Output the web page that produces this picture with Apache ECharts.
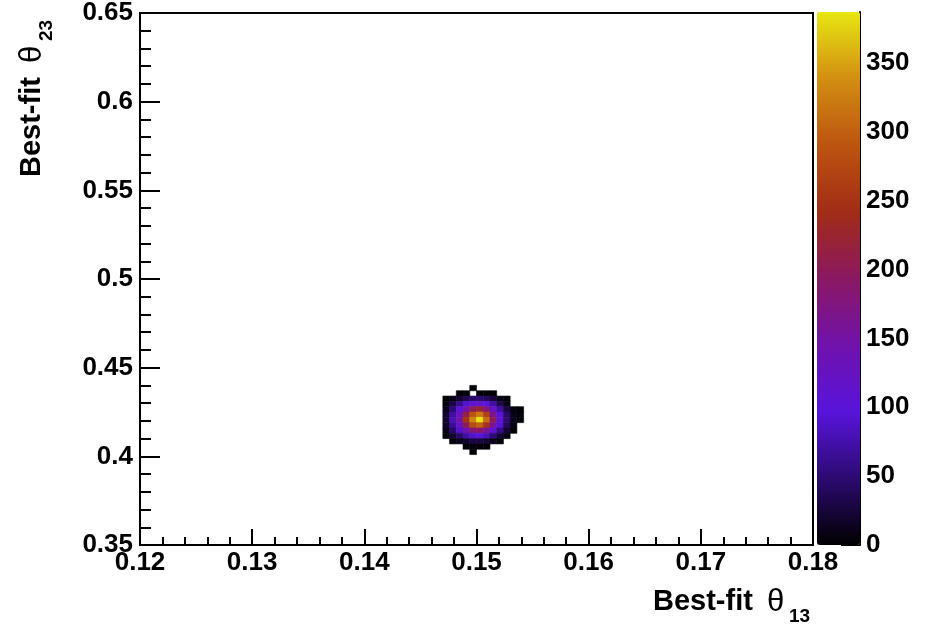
<!DOCTYPE html>
<html>
<head>
<meta charset="utf-8">
<script src="https://cdn.jsdelivr.net/npm/echarts@6/dist/echarts.min.js"></script>
<style>
  html, body { margin: 0; padding: 0; background: #ffffff; }
  #chart { width: 926px; height: 629px; }
</style>
</head>
<body>
<div id="chart"></div>
<script>
// Histogram binning: 100 x 100 bins over the plotted ranges
const xRange = [0.12, 0.18];
const yRange = [0.35, 0.65];
const xBinWidth = 0.0006;
const yBinWidth = 0.003;

// First bin column that holds entries (columns 45..56 below)
const firstCol = 45;
// Bin rows counted from the bottom of the y range, listed top to bottom
const rowIndex = [29, 28, 27, 26, 25, 24, 23, 22, 21, 20, 19, 18, 17];
// Entries per bin for each row, columns 45..56
const rowCounts = [
  [0, 0, 0, 0, 2, 0, 0, 0, 0, 0, 0, 0],
  [0, 0, 2, 4, 0, 3, 4, 2, 0, 0, 0, 0],
  [2, 8, 20, 35, 45, 50, 40, 25, 10, 2, 0, 0],
  [6, 30, 60, 90, 110, 120, 100, 70, 35, 10, 0, 0],
  [12, 50, 100, 150, 200, 220, 180, 120, 70, 30, 6, 2],
  [18, 70, 130, 210, 290, 320, 270, 170, 100, 45, 10, 4],
  [20, 80, 150, 250, 330, 387, 310, 200, 110, 50, 12, 3],
  [16, 65, 125, 200, 280, 300, 250, 160, 95, 40, 8, 0],
  [10, 45, 90, 140, 180, 190, 160, 110, 60, 25, 4, 0],
  [4, 20, 45, 70, 90, 95, 80, 50, 25, 6, 0, 0],
  [0, 5, 12, 20, 28, 30, 22, 12, 4, 0, 0, 0],
  [0, 0, 0, 4, 6, 5, 3, 0, 0, 0, 0, 0],
  [0, 0, 0, 0, 2, 0, 0, 0, 0, 0, 0, 0]
];

// Colour scale
const zMax = 387;
const colorbarTicks = [0, 50, 100, 150, 200, 250, 300, 350];
const paletteColors = ['#000000', '#2c0a70', '#5814dc', '#7012ac', '#8a1862',
                       '#a22c16', '#bc5410', '#d28e12', '#e8e612'];

// Axis titles
const xTitle = { main: 'Best-fit', symbol: 'θ', sub: '13' };
const yTitle = { main: 'Best-fit', symbol: 'θ', sub: '23' };

// Non-empty bins as [x low edge, y low edge, entries]
const cells = [];
rowCounts.forEach((row, r) => {
  row.forEach((n, c) => {
    if (n > 0) {
      cells.push([
        +(xRange[0] + (firstCol + c) * xBinWidth).toFixed(6),
        +(yRange[0] + rowIndex[r] * yBinWidth).toFixed(6),
        n
      ]);
    }
  });
});

const FONT = '"Liberation Sans", Arial, Helvetica, sans-serif';
const BLACK = '#000000';

function titleGroup(t, pos, rotation) {
  return {
    type: 'group',
    x: pos[0],
    y: pos[1],
    rotation: rotation,
    children: [
      { type: 'text', x: 0, y: 0,
        style: { text: t.main, font: 'bold 29px ' + FONT, fill: BLACK,
                 align: 'left', verticalAlign: 'middle' } },
      { type: 'text', x: 114, y: 0,
        style: { text: t.symbol, font: '31px ' + FONT, fill: BLACK,
                 align: 'left', verticalAlign: 'middle' } },
      { type: 'text', x: 136, y: 15,
        style: { text: t.sub, font: 'bold 19px ' + FONT, fill: BLACK,
                 align: 'left', verticalAlign: 'middle' } }
    ]
  };
}

const chart = echarts.init(document.getElementById('chart'), null, { renderer: 'canvas' });

const tickLabel = { color: BLACK, fontFamily: FONT, fontWeight: 'bold', fontSize: 26 };

chart.setOption({
  animation: false,
  backgroundColor: '#ffffff',
  grid: [
    { left: 140, right: 113, top: 12, bottom: 84, show: true,
      borderColor: BLACK, borderWidth: 2, backgroundColor: 'transparent' },
    { left: 817, width: 43, top: 12, bottom: 84, show: false }
  ],
  xAxis: [
    {
      type: 'value', gridIndex: 0,
      min: xRange[0], max: xRange[1], interval: 0.01,
      axisLine: { show: true, lineStyle: { color: BLACK, width: 2 } },
      axisTick: { show: true, inside: true, length: 16, lineStyle: { color: BLACK, width: 2 } },
      minorTick: { show: true, splitNumber: 5, length: 8, lineStyle: { color: BLACK, width: 2 } },
      splitLine: { show: false },
      minorSplitLine: { show: false },
      axisLabel: Object.assign({ margin: 5 }, tickLabel)
    },
    { type: 'value', gridIndex: 1, min: 0, max: 1, show: false }
  ],
  yAxis: [
    {
      type: 'value', gridIndex: 0,
      min: yRange[0], max: yRange[1], interval: 0.05,
      axisLine: { show: true, lineStyle: { color: BLACK, width: 2 } },
      axisTick: { show: true, inside: true, length: 20, lineStyle: { color: BLACK, width: 2 } },
      minorTick: { show: true, splitNumber: 5, length: 11, lineStyle: { color: BLACK, width: 2 } },
      splitLine: { show: false },
      minorSplitLine: { show: false },
      axisLabel: Object.assign({ margin: 7 }, tickLabel)
    },
    {
      type: 'value', gridIndex: 1, position: 'right',
      min: 0, max: zMax,
      axisLine: { show: true, onZero: false, lineStyle: { color: BLACK, width: 2 } },
      axisTick: { show: true, inside: true, length: 19, customValues: colorbarTicks,
                  lineStyle: { color: BLACK, width: 2 } },
      splitLine: { show: false },
      axisLabel: Object.assign({ margin: 6, customValues: colorbarTicks }, tickLabel)
    }
  ],
  visualMap: {
    type: 'continuous',
    min: 0, max: zMax,
    dimension: 2,
    seriesIndex: 0,
    orient: 'vertical',
    left: 817, top: 12,
    itemWidth: 43, itemHeight: 533,
    padding: 0,
    calculable: false,
    hoverLink: false,
    text: null,
    inRange: { color: paletteColors }
  },
  series: [
    {
      type: 'custom',
      xAxisIndex: 0, yAxisIndex: 0,
      data: cells,
      encode: { x: 0, y: 1 },
      clip: true,
      renderItem: function (params, api) {
        const x0 = api.value(0);
        const y0 = api.value(1);
        const topLeft = api.coord([x0, y0 + yBinWidth]);
        const bottomRight = api.coord([x0 + xBinWidth, y0]);
        const col = api.visual('color');
        return {
          type: 'rect',
          shape: { x: topLeft[0], y: topLeft[1],
                   width: bottomRight[0] - topLeft[0],
                   height: bottomRight[1] - topLeft[1] },
          style: { fill: col, stroke: col, lineWidth: 0.6 }
        };
      }
    }
  ],
  graphic: [
    titleGroup(xTitle, [653, 602], 0),
    titleGroup(yTitle, [32, 177], Math.PI / 2)
  ]
});
</script>
</body>
</html>
